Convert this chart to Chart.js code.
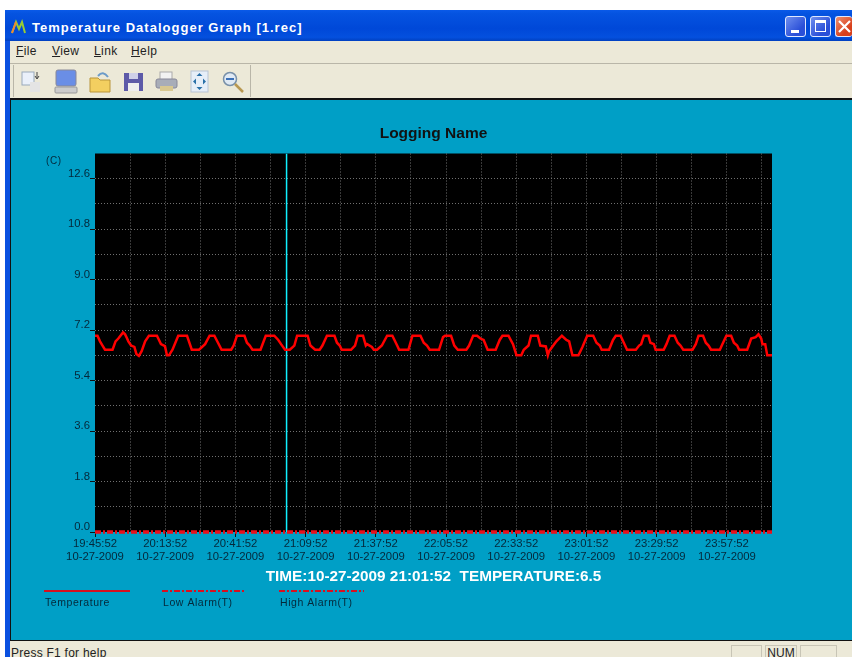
<!DOCTYPE html>
<html><head><meta charset="utf-8">
<script src="https://cdn.jsdelivr.net/npm/chart.js@4"></script>
<style>
html,body{margin:0;padding:0;width:852px;height:657px;overflow:hidden;background:#fff;font-family:"Liberation Sans",Arial,sans-serif}
.abs{position:absolute}
#win{left:5px;top:10px;width:847px;height:647px;background:#0a50e0}
#titlebar{left:5px;top:10px;width:847px;height:31px;background:linear-gradient(#0a5ae8 0,#0553e0 12%,#0048d8 60%,#0450de 88%,#0040c0 100%)}
#ttl{left:32px;top:20px;color:#fff;font:bold 13px "Liberation Sans",sans-serif;letter-spacing:1.02px;white-space:nowrap}
#menubar{left:10px;top:41px;width:842px;height:22px;background:#ece9d8;border-bottom:1px solid #b9b6a8}
#toolbar{left:10px;top:64px;width:842px;height:34px;background:#ece9d8}
#panel{left:10px;top:98px;width:842px;background:#009fc6;border-top:2px solid #111;border-left:1px solid #111;box-sizing:border-box;border-bottom:1px solid #111;height:543px}
#status{left:10px;top:641px;width:842px;height:16px;background:#ece9d8}
.m{position:absolute;top:44px;font:12px "Liberation Sans",sans-serif;color:#222;letter-spacing:.4px}
.m u{text-decoration:underline}
.sb{position:absolute;top:645px;height:12px;border:1px solid #c8c5b6;border-bottom:none;box-sizing:border-box}
.wb{position:absolute;top:16px;width:21px;height:21px;border:1px solid #dfe8ff;border-radius:3px;box-sizing:border-box;background:linear-gradient(135deg,#6f8fee,#2a4fd8 70%)}
#chart{position:absolute;left:14px;top:0}
svg{position:absolute;overflow:visible}
</style></head>
<body>
<div class="abs" id="win"></div>
<div class="abs" id="titlebar"></div>
<svg style="left:11px;top:20px" width="15" height="14"><path d="M1 13 L5 2 L8 9 L11 2 L14 13" fill="none" stroke="#9c3" stroke-width="2"/><path d="M1 13 L5 2" stroke="#e83" stroke-width="2"/></svg>
<div class="abs" id="ttl">Temperature Datalogger Graph [1.rec]</div>
<div class="wb" style="left:785px"><div style="position:absolute;left:5px;top:13px;width:8px;height:3px;background:#fff"></div></div>
<div class="wb" style="left:810px"><div style="position:absolute;left:4px;top:3px;width:11px;height:12px;border:1px solid #fff;border-top:3px solid #fff;box-sizing:border-box"></div></div>
<div class="wb" style="left:835px;width:17px;background:linear-gradient(135deg,#f09070,#d8401c 70%);border-right:none"><svg style="left:2px;top:3px" width="13" height="13"><path d="M1 1L12 12M12 1L1 12" stroke="#fff" stroke-width="2.2"/></svg></div>
<div class="abs" id="menubar"></div>
<div class="m" style="left:16px"><u>F</u>ile</div>
<div class="m" style="left:52px"><u>V</u>iew</div>
<div class="m" style="left:94px"><u>L</u>ink</div>
<div class="m" style="left:131px"><u>H</u>elp</div>
<div class="abs" id="toolbar"></div>
<div class="abs" style="left:13px;top:65px;width:1px;height:32px;background:#b9b6a8"></div>
<div class="abs" style="left:250px;top:65px;width:1px;height:32px;background:#b9b6a8"></div>
<svg style="left:22px;top:70px" width="22" height="24"><rect x="0" y="2" width="12" height="13" fill="#eaf0fa" stroke="#9ab"/><rect x="8" y="12" width="10" height="10" fill="#e4e4e4"/><path d="M15 2v6m-2-2l2 3 2-3" stroke="#444" fill="none"/></svg>
<svg style="left:54px;top:69px" width="24" height="25"><rect x="2" y="1" width="20" height="16" rx="2" fill="#6a8ee6" stroke="#889"/><rect x="1" y="18" width="22" height="6" rx="1" fill="#ccc" stroke="#999"/></svg>
<svg style="left:89px;top:70px" width="24" height="24"><path d="M1 8h8l2 2h10v12H1z" fill="#f3cf60" stroke="#b9953a"/><path d="M9 6q5-6 10 1" stroke="#6c9bc8" stroke-width="2" fill="none"/></svg>
<svg style="left:124px;top:72px" width="20" height="20"><rect x="0" y="1" width="19" height="18" fill="#5d5aa8"/><rect x="5" y="1" width="9" height="6" fill="#cfd0e8"/><rect x="4" y="11" width="11" height="8" fill="#eee"/></svg>
<svg style="left:155px;top:71px" width="23" height="22"><rect x="5" y="1" width="12" height="8" fill="#f2f2f2" stroke="#aaa"/><rect x="1" y="8" width="21" height="9" rx="2" fill="#a8adb8" stroke="#889"/><rect x="5" y="15" width="13" height="5" fill="#d8c890"/></svg>
<svg style="left:191px;top:71px" width="18" height="22"><rect x="0" y="0" width="17" height="21" fill="#e6eef8" stroke="#b8c4d4"/><path d="M8.5 2l3 3h-6zM8.5 19l3-3h-6zM2 10.500l3-3v6zM15 10.500l-3-3v6z" fill="#2a70a8"/></svg>
<svg style="left:222px;top:71px" width="23" height="23"><circle cx="8" cy="8" r="6.500" fill="#dfe9f4" stroke="#7890a8" stroke-width="1.500"/><rect x="4" y="7" width="8" height="2" fill="#3a70b8"/><path d="M13 13l8 8" stroke="#b89850" stroke-width="2.500"/></svg>
<div class="abs" id="panel"></div>
<div class="abs" id="status"></div>
<div class="abs" style="left:11px;top:646px;font:12px 'Liberation Sans',sans-serif;color:#222;letter-spacing:.25px;white-space:nowrap">Press F1 for help</div>
<div class="sb" style="left:731px;width:31px"></div>
<div class="sb" style="left:765px;width:32px;font:12px 'Liberation Sans',sans-serif;color:#222;text-align:center;padding-top:0">NUM</div>
<div class="sb" style="left:800px;width:37px"></div>
<canvas id="chart" width="838" height="657"></canvas>
<script>
// ---- data ----
const tickTimes = ['19:45:52','20:13:52','20:41:52','21:09:52','21:37:52','22:05:52','22:33:52','23:01:52','23:29:52','23:57:52'];
const tickDate = '10-27-2009';
const yTickLabels = ['0.0','1.8','3.6','5.4','7.2','9.0','10.8','12.6'];
const chartTitle = 'Logging Name';
const statusLine = 'TIME:10-27-2009 21:01:52  TEMPERATURE:6.5';
const unitLabel = '(C)';
const cursorMinute = 76.4;
const lowAlarm = 0;
const highAlarm = 0;
// minutes after 19:45:52
const minutes = [0,1,2,3,4,7,8.2,9.3,11.2,12,12.8,13.3,14.4,15.7,16.5,17.5,18.6,20,21.5,24.7,26.3,27.9,28.7,29.5,30.9,33.2,36.7,38.6,41.5,43.9,45.7,47.6,50.5,54.3,
55.3,56.6,59.6,60.6,61.7,62.8,66,68.1,71.5,73.1,74.2,75.8,77.7,79.5,80.6,84.8,85.9,87.8,89.6,90.7,92.5,95.5,96.5,97.6,98.4,102.1,103.7,104.8,106.9,108,
108.5,110.4,111.2,112.5,114.4,116.5,118.6,120.5,121.3,125,126.6,129.8,131.1,132.4,133.5,137.2,138.8,139.6,142,143.3,144.7,148.1,149.2,150.8,152.4,153.7,155,156.6,159.8,161.4,162.5,
164.9,166.7,168.1,170,171,172.9,173.9,176.6,177.6,179.8,180.6,181.1,184,186.2,188,189.1,190.4,192.8,194.4,196.3,198.7,200,201.3,202.1,205,206.6,207.7,209.6,210.9,212.2,215.7,217,
217.8,218.9,220.7,221.5,222.9,223.6,226.8,227.9,229.2,231.1,232.4,233.5,234.6,238.3,239.6,240.7,242.5,243.6,244.7,245.7,249.2,250.2,251.8,253.7,254.8,256.1,256.9,260.1,261.1,261.7,263.5,264.6,265.7,266.2,267.3,268.1,270];
const temperature = [7,7,6.8,6.65,6.5,6.5,6.8,6.9,7.12,7.05,6.9,6.8,6.65,6.6,6.35,6.28,6.45,6.8,7,7,6.7,6.63,6.3,6.3,6.5,7,7,6.5,6.5,6.7,7,7,6.5,6.5,
6.65,7,7,6.75,6.65,6.5,6.5,7,7,6.85,6.7,6.5,6.5,6.65,7,7,6.65,6.5,6.5,6.65,7,7,6.75,6.65,6.5,6.5,6.65,7,7,6.65,
6.7,6.6,6.5,6.5,6.65,7,7,6.65,6.5,6.5,7,7,6.75,6.65,6.5,6.5,6.95,7,7,6.65,6.5,6.5,6.65,7,7,6.9,6.85,6.5,6.5,6.85,7,
7,6.7,6.3,6.3,6.5,6.65,7,7,6.65,6.62,6.3,6.45,6.8,7,6.85,6.8,6.3,6.3,6.6,7,7,6.75,6.65,6.5,6.5,6.85,7,7,6.75,6.5,6.5,6.65,
6.7,7,7,6.75,6.7,6.5,6.5,6.7,7,7,6.75,6.65,6.5,6.5,6.7,7,7,6.75,6.65,6.5,6.5,6.7,7,7,6.75,6.65,6.5,6.5,6.75,6.9,6.95,7.05,6.9,6.7,6.7,6.3,6.3];
const seriesNames = ['Temperature','Low Alarm(T)','High Alarm(T)'];

const ink = '#04283a';
const legendBoxes = [[44,130],[162,246],[279,364]]; // page x spans

const chromePlugin = {
  id:'chrome',
  beforeDraw(c){
    const a=c.chartArea, g=c.ctx;
    g.save(); g.fillStyle='#000'; g.fillRect(a.left,a.top,a.width,a.height); g.restore();
  },
  afterDraw(c){
    const g=c.ctx, ox=14;
    g.save();
    g.fillStyle=ink; g.font='10px "Liberation Sans",sans-serif';
    g.textAlign='left'; g.textBaseline='middle';
    g.letterSpacing='0.6px';
    g.fillText(unitLabel,46-ox,161);
    c.data.datasets.slice(0,3).forEach((d,i)=>{
      const [x0,x1]=legendBoxes[i];
      g.strokeStyle='#d81020'; g.lineWidth=2;
      g.setLineDash(d.borderDash||[]);
      g.beginPath(); g.moveTo(x0-ox,591); g.lineTo(x1-ox,591); g.stroke();
      g.setLineDash([]);
      g.fillStyle=ink; g.font='10.5px "Liberation Sans",sans-serif';
      g.letterSpacing='0.55px';
      g.fillText(d.label,x0+1-ox,603);
    });
    g.restore();
  }
};

new Chart(document.getElementById('chart'),{
  type:'line',
  plugins:[chromePlugin],
  data:{datasets:[
    {label:seriesNames[0],data:minutes.map((m,i)=>({x:m,y:temperature[i]})),borderColor:'#ff0000',borderWidth:2.5,pointRadius:0,tension:0,order:1},
    {label:seriesNames[1],data:[{x:0,y:lowAlarm},{x:270,y:lowAlarm}],borderColor:'#e8101c',borderWidth:3,borderDash:[6,2,2,2],pointRadius:0,clip:false,order:2},
    {label:seriesNames[2],data:[{x:0,y:highAlarm},{x:270,y:highAlarm}],borderColor:'#e8101c',borderWidth:3,borderDash:[6,2,2,2],pointRadius:0,clip:false,order:3},
    {label:'Cursor',data:[{x:cursorMinute,y:0},{x:cursorMinute,y:13.5}],borderColor:'#10f0ff',borderWidth:1.5,pointRadius:0,order:4}
  ]},
  options:{
    responsive:false,animation:false,devicePixelRatio:1,
    layout:{padding:{left:0,right:80,top:0,bottom:0}},
    plugins:{
      legend:{display:false},tooltip:{enabled:false},
      title:{display:true,fullSize:false,text:chartTitle,color:'#111',font:{family:'"Liberation Sans"',size:15.5,weight:'bold'},padding:{top:124.2,bottom:10.7}},
      subtitle:{display:true,fullSize:false,position:'bottom',text:statusLine,color:'#fff',font:{family:'"Liberation Sans"',size:15.3,weight:'bold'},padding:{top:0,bottom:70.64}}
    },
    scales:{
      x:{type:'linear',min:0,max:270,
        afterFit(s){s.height=36;},
        border:{display:false,dash:[1,2]},
        grid:{color:c=>c.tick&&c.tick.value===0?'transparent':'#707070',lineWidth:1,tickLength:5,
          tickColor:c=>c.tick&&c.tick.value%28===0?'#111':'transparent',tickBorderDash:[]},
        ticks:{stepSize:14,includeBounds:false,autoSkip:false,maxRotation:0,minRotation:0,padding:0,color:ink,
          font:{family:'"Liberation Sans"',size:11.3,lineHeight:1.15},
          callback:v=>v%28===0?[tickTimes[v/28],tickDate]:''}
      },
      y:{min:0,max:13.5,
        afterFit(s){s.width=81;},
        border:{display:false,dash:[1,2]},
        grid:{color:c=>{const k=c.tick?Math.round(c.tick.value/0.9):0;return (k===0||k===15)?'transparent':'#707070';},lineWidth:1,tickLength:5,
          tickColor:c=>c.tick&&Math.round(c.tick.value/0.9)%2===0&&Math.round(c.tick.value/0.9)<15?'#111':'transparent',tickBorderDash:[]},
        ticks:{stepSize:0.9,autoSkip:false,padding:0,labelOffset:-5,color:ink,
          font:{family:'"Liberation Sans"',size:11.3},
          callback:v=>{const k=Math.round(v/0.9);return k%2===0&&k<15?yTickLabels[k/2]:'';}}
      }
    }
  }
});
</script>
</body></html>
